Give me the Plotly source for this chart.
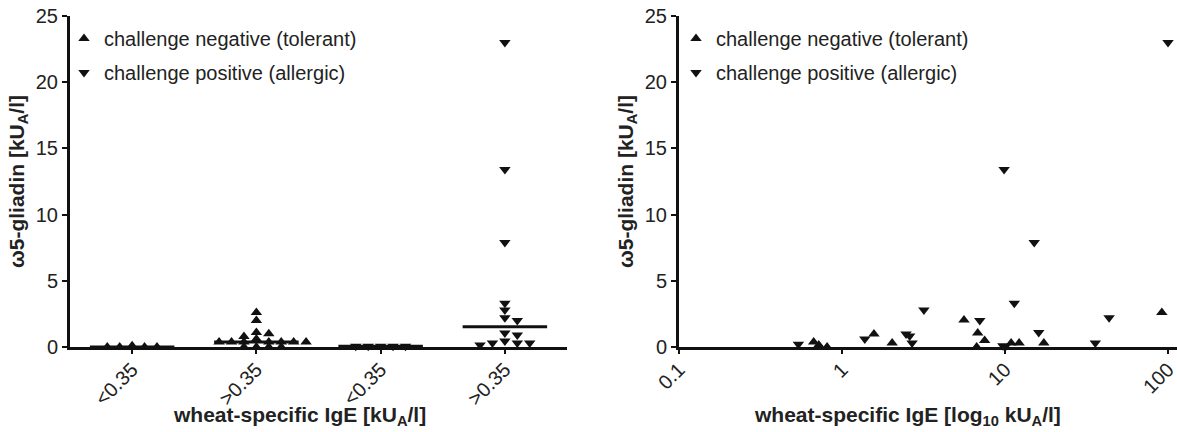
import numpy as np
import plotly.graph_objects as go

# ---------------- data ----------------
group_labels = ["<0.35", ">0.35", "<0.35", ">0.35"]
# left panel: omega-5 gliadin values per column (columns 0,1 tolerant; 2,3 allergic)
neg_low = [0.1, 0.0, 0.0, 0.0, 0.0]
neg_high = [2.6, 2.0, 1.1, 1.0, 0.8, 0.6, 0.38, 0.38, 0.38, 0.38, 0.38, 0.38, 0.38, 0.0, 0.0, 0.0, 0.0]
pos_low = [0.05, 0.05, 0.05, 0.05, 0.05]
pos_high = [23.0, 13.4, 7.9, 3.3, 2.8, 2.2, 2.0, 1.06, 0.9, 0.45, 0.3, 0.3, 0.3, 0.15]

# right panel: wheat-specific IgE (x) vs omega-5 gliadin (y)
neg_ige = [0.67, 0.72, 0.81, 1.57, 2.03, 5.6, 6.8, 7.5, 6.7, 10.9, 12.2, 17.3, 91.6]
neg_gli = [0.38, 0.15, 0.0, 0.98, 0.3, 2.04, 1.06, 0.5, 0.0, 0.3, 0.3, 0.3, 2.6]
pos_ige = [0.54, 1.38, 2.47, 2.6, 2.69, 3.18, 7.0, 9.7, 10.0, 11.4, 16.1, 35.8, 43.5, 100.0, 9.87, 15.1]
pos_gli = [0.2, 0.6, 0.98, 0.83, 0.3, 2.8, 2.0, 0.1, 0.0, 3.3, 1.1, 0.3, 2.2, 23.0, 13.4, 7.9]

y_ticks = [0, 5, 10, 15, 20, 25]
x_log_ticks = [0.1, 1, 10, 100]
x_log_ticktext = ["0.1", "1", "10", "100"]

name_neg = "challenge negative (tolerant)"
name_pos = "challenge positive (allergic)"

W, H = 1177, 432
X0, X1 = 70, 567          # left plot area in px
Y_TOP, Y_BOT = 16, 347    # plot area top/bottom in px
XRANGE = [-0.5, 3.5]
YRANGE = [0, 25]


# ---------------- helpers ----------------
def column_scatter(values, step=0.1, ythresh=0.36):
    """Prism-like column scatter: points of similar value are put side by side."""
    vals = np.asarray(values, float)
    order = np.argsort(-vals, kind="stable")
    cols = [0]
    for k in range(1, 12):
        cols += [k, -k]
    placed = []
    offs = np.zeros(len(vals))
    for i in order:
        v = vals[i]
        for c in cols:
            if all(not (pc == c and abs(pv - v) < ythresh) for pc, pv in placed):
                placed.append((c, v))
                offs[i] = c * step
                break
    return offs


FONT = "Arial, Liberation Sans, sans-serif"
INK = "#111111"
TXT = "#222222"
MS = 10

fig = go.Figure()

groups = [(0, neg_low, "neg"), (1, neg_high, "neg"),
          (2, pos_low, "pos"), (3, pos_high, "pos")]

# left panel scatter
for kind, sym, nm in [("neg", "triangle-up", name_neg), ("pos", "triangle-down", name_pos)]:
    xs, ys = [], []
    for pos, vals, k in groups:
        if k != kind:
            continue
        offs = column_scatter(vals)
        xs += list(pos + offs)
        ys += list(vals)
    fig.add_trace(go.Scatter(
        x=xs, y=ys, mode="markers", name=nm, legendgroup=kind, legend="legend",
        marker=dict(symbol=sym, size=MS, color=INK), cliponaxis=False,
        xaxis="x", yaxis="y"))

# medians
for pos, vals, k in groups:
    m = float(np.median(vals))
    fig.add_trace(go.Scatter(
        x=[pos - 0.34, pos + 0.34], y=[m, m], mode="lines",
        line=dict(color=INK, width=3), showlegend=False, cliponaxis=False,
        xaxis="x", yaxis="y"))

# right panel scatter
fig.add_trace(go.Scatter(
    x=neg_ige, y=neg_gli, mode="markers", name=name_neg, legendgroup="neg2", legend="legend2",
    marker=dict(symbol="triangle-up", size=MS, color=INK), cliponaxis=False,
    xaxis="x2", yaxis="y2"))
fig.add_trace(go.Scatter(
    x=pos_ige, y=pos_gli, mode="markers", name=name_pos, legendgroup="pos2", legend="legend2",
    marker=dict(symbol="triangle-down", size=MS, color=INK), cliponaxis=False,
    xaxis="x2", yaxis="y2"))

ydom = [(H - Y_BOT) / H, (H - Y_TOP) / H]

axis_common = dict(showline=True, linewidth=3, linecolor=INK, ticks="outside",
                   tickwidth=2, tickcolor=INK, showgrid=False,
                   zeroline=False, automargin=False, ticklabeloverflow="allow",
                   tickfont=dict(family=FONT, size=20, color=TXT))

ytitle = "<b>ω5-gliadin [kU<sub>A</sub>/l]</b>"
TFONT = dict(family=FONT, size=21, color=TXT)

fig.update_layout(
    width=W, height=H, autosize=False,
    margin=dict(l=0, r=0, t=0, b=0),
    paper_bgcolor="white", plot_bgcolor="white",
    font=dict(family=FONT, color=TXT),
    xaxis=dict(domain=[X0 / W, X1 / W], range=XRANGE, tickvals=[0, 1, 2, 3],
               ticktext=group_labels, tickangle=-45, anchor="y", ticklen=4,
               ticklabelstandoff=-4, **axis_common),
    yaxis=dict(domain=ydom, range=YRANGE, tickvals=y_ticks, anchor="x", ticklen=5,
               title=dict(text=ytitle, font=TFONT, standoff=6),
               **axis_common),
    xaxis2=dict(domain=[679 / W, 1.0], type="log", range=[-1, 2.055],
                tickvals=x_log_ticks, ticktext=x_log_ticktext, tickangle=-45, anchor="y2",
                ticklen=4, ticklabelstandoff=-4, **axis_common),
    yaxis2=dict(domain=ydom, range=YRANGE, tickvals=y_ticks, anchor="x2", ticklen=5,
                title=dict(text=ytitle, font=TFONT, standoff=6),
                **axis_common),
    legend=dict(x=64 / W, y=(H - 19) / H, xanchor="left", yanchor="top",
                bgcolor="rgba(0,0,0,0)", font=dict(family=FONT, size=20, color=TXT),
                tracegroupgap=5, itemsizing="trace"),
    legend2=dict(x=676 / W, y=(H - 19) / H, xanchor="left", yanchor="top",
                 bgcolor="rgba(0,0,0,0)", font=dict(family=FONT, size=20, color=TXT),
                 tracegroupgap=5, itemsizing="trace"),
    annotations=[
        dict(text="<b>wheat-specific IgE [kU<sub>A</sub>/l]</b>", xref="paper", yref="paper",
             x=299 / W, y=(H - 416) / H, xanchor="center", yanchor="middle",
             showarrow=False, font=TFONT),
        dict(text="<b>wheat-specific IgE [log<sub>10</sub> kU<sub>A</sub>/l]</b>",
             xref="paper", yref="paper",
             x=907 / W, y=(H - 416) / H, xanchor="center", yanchor="middle",
             showarrow=False, font=TFONT),
    ],
    showlegend=True,
)

fig.write_html("out.html")
